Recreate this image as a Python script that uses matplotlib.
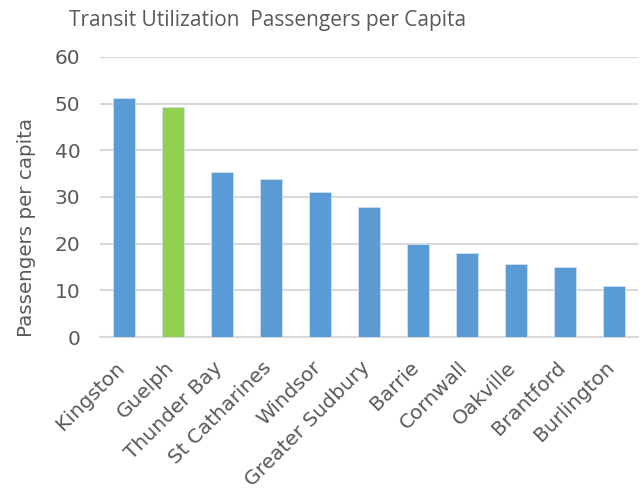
import matplotlib
matplotlib.use("Agg")
import matplotlib.pyplot as plt
from matplotlib.transforms import ScaledTranslation

plt.rcParams["font.family"] = ["DejaVu Sans"]

cities = ["Kingston", "Guelph", "Thunder Bay", "St Catharines", "Windsor",
          "Greater Sudbury", "Barrie", "Cornwall", "Oakville", "Brantford",
          "Burlington"]
passengers = [51.2, 49.3, 35.4, 33.8, 31.0, 27.9, 19.9, 18.0, 15.6, 15.0, 11.0]
highlight = "Guelph"
y_ticks = [0, 10, 20, 30, 40, 50, 60]

blue = "#5b9bd5"
green = "#92d050"
grey_text = "#595959"
grid_col = "#d9d9d9"

fig = plt.figure(figsize=(6.44, 4.90), dpi=100)
ax = fig.add_axes([0.155, 0.312, 0.836, 0.572])

colors = [green if c == highlight else blue for c in cities]
x = range(len(cities))
ax.bar(x, passengers, width=0.45, color=colors, edgecolor="#cfe0f2",
       linewidth=0.6, zorder=3)

ax.set_xlim(-0.5, len(cities) - 0.5)
ax.set_ylim(0, 60)
ax.set_yticks(y_ticks)
ax.set_yticklabels([str(t) for t in y_ticks], fontsize=14.5, color=grey_text)
ax.set_xticks(list(x))
ax.set_xticklabels(cities, rotation=45, ha="right", rotation_mode="anchor",
                   fontsize=14.5, color=grey_text)
ax.tick_params(axis="both", length=0)
ax.tick_params(axis="y", pad=14)
ax.tick_params(axis="x", pad=15)

# nudge the slanted category names left so they end under their bars
shift = ScaledTranslation(-6.5 / 72, 0, fig.dpi_scale_trans)
for lbl in ax.get_xticklabels():
    lbl.set_transform(lbl.get_transform() + shift)

ax.grid(axis="y", color=grid_col, linewidth=1.5, zorder=0)
for side in ["top", "right", "left"]:
    ax.spines[side].set_visible(False)
ax.spines["bottom"].set_color(grid_col)
ax.spines["bottom"].set_linewidth(1.5)

ax.set_ylabel("Passengers per capita", fontsize=14.3, color=grey_text)
ax.yaxis.set_label_coords(-0.118, 0.39)
fig.text(0.415, 0.958, "Transit Utilization  Passengers per Capita",
         ha="center", va="center", fontsize=15, color=grey_text,
         family="Open Sans")

fig.savefig("out.png", dpi=100, facecolor="white")
